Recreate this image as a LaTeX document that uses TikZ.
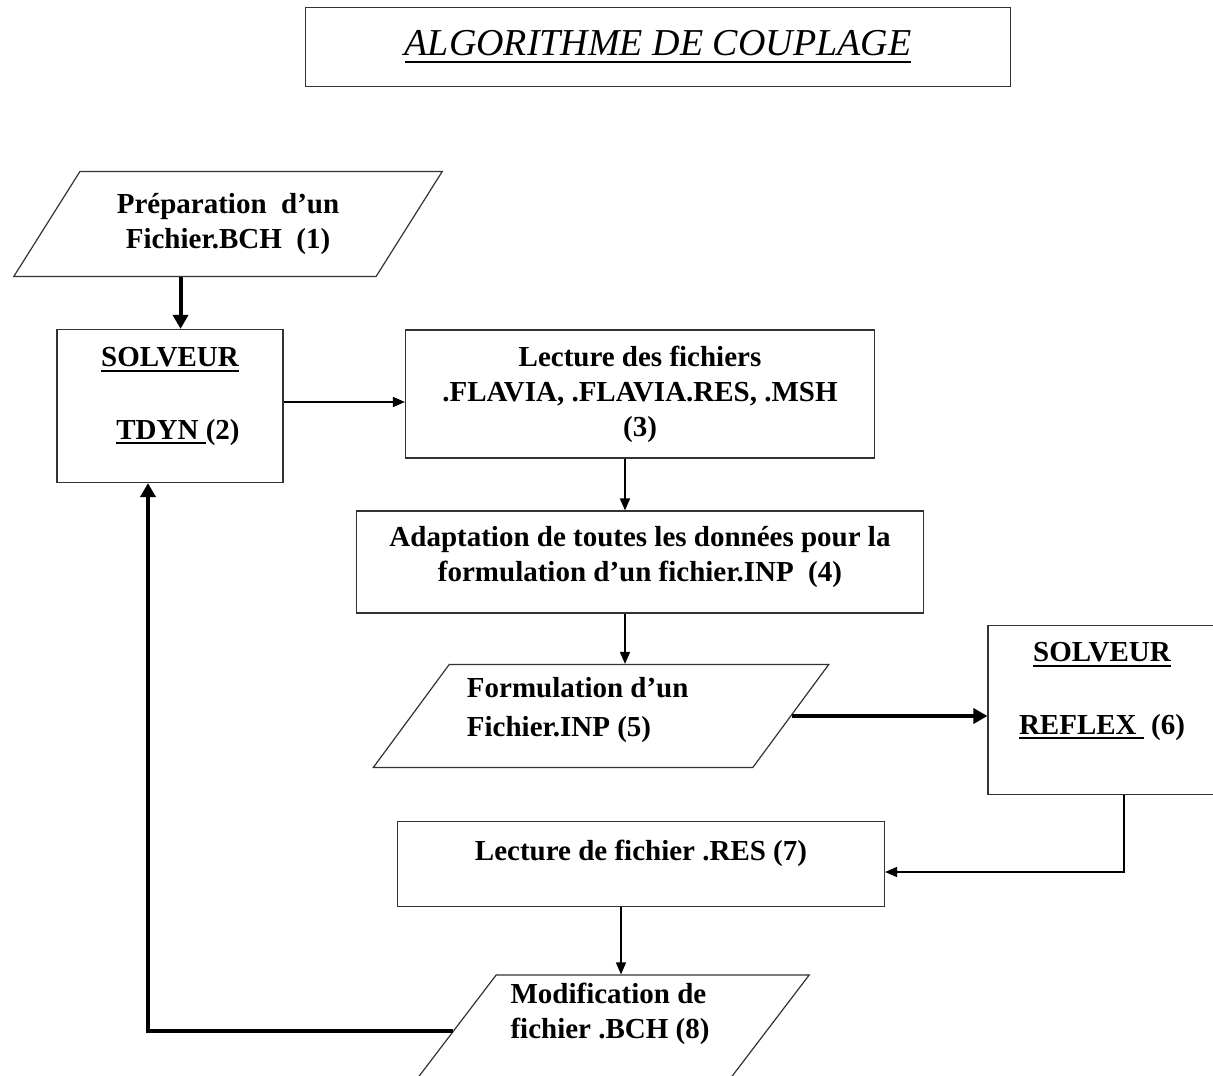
\documentclass[tikz,border=0pt]{standalone}
\usepackage{fontspec}
\setmainfont{Liberation Serif}
\usetikzlibrary{arrows.meta}
\usetikzlibrary{shapes.geometric}

\newcommand{\ulbox}[2][3pt]{\vtop{\hbox{#2}\kern#1\hrule height 2pt}}

\begin{document}
\begin{tikzpicture}[
  box/.style={draw=black!80, line width=1.2pt, rectangle, align=center,
    inner sep=0pt, font=\fontsize{29}{35}\selectfont\bfseries},
  inout/.style={box, trapezium, trapezium stretches=true},
  arr/.style={line width=1.6pt, -{Triangle[length=12pt,width=10pt]}},
  bigarr/.style={line width=4pt, -{Triangle[length=14pt,width=15pt]}}
]
\useasboundingbox (0,0) rectangle (1213pt,-1076pt);
\clip (0,0) rectangle (1213pt,-1076pt);
% title
\node[box, minimum width=705pt, minimum height=79pt,
  font=\fontsize{38}{40}\selectfont\itshape] (titre) at (658pt,-47pt)
  {\ulbox[5pt]{ALGORITHME DE COUPLAGE}};
% left column
\node[inout, trapezium left angle=51, trapezium right angle=129,
  minimum width=430pt, minimum height=105pt] (prep) at (228pt,-224pt)
  {Préparation~~d’un\\Fichier.BCH~~(1)};
\node[box, minimum width=226pt, minimum height=153pt, text depth=26pt]
  (tdyn) at (170pt,-406pt)
  {\ulbox{SOLVEUR}\\[38pt]\hspace*{16pt}\ulbox{TDYN }(2)};
% middle column
\node[box, minimum width=469pt, minimum height=128pt] (lecture) at (640pt,-394pt)
  {Lecture des fichiers\\.FLAVIA, .FLAVIA.RES, .MSH\\(3)};
\node[box, minimum width=567pt, minimum height=102pt, text depth=16pt]
  (adapt) at (640pt,-562pt)
  {Adaptation de toutes les données pour la\\formulation d’un fichier.INP~~(4)};
\node[inout, align=left, trapezium left angle=49, trapezium right angle=131,
  minimum width=458pt, minimum height=103pt, text depth=18pt] (inp) at (601pt,-716pt)
  {Formulation d’un\\[4pt]Fichier.INP (5)\hspace*{84pt}};
\node[box, minimum width=228pt, minimum height=169pt, text depth=44pt]
  (reflex) at (1102pt,-710pt)
  {\ulbox{SOLVEUR}\\[38pt]\ulbox{REFLEX } (6)};
\node[box, minimum width=487pt, minimum height=85pt, text depth=28pt]
  (res) at (641pt,-864pt)
  {Lecture de fichier .RES (7)};
\node[inout, align=left, trapezium left angle=52, trapezium right angle=128,
  minimum width=399pt, minimum height=112pt, text depth=40pt]
  (modif) at (610pt,-1031pt)
  {Modification de\\fichier .BCH (8)};
% turning points
\coordinate (coin) at (1124pt,-872pt);
\coordinate (retour) at (148pt,0);
% links
\draw[bigarr] ([xshift=-14pt]prep.bottom side) -- ([xshift=-14pt]prep.bottom side |- tdyn.north);
\draw[arr] ([yshift=4pt]tdyn.east) -- ([yshift=4pt]lecture.west |- tdyn.east);
\draw[arr] ([xshift=-15pt]lecture.south) -- ([xshift=-15pt]adapt.north);
\draw[arr] ([xshift=-15pt]adapt.south) -- ([xshift=-15pt]adapt.south |- inp.north);
\draw[bigarr] (inp.right side) -- (inp.right side -| reflex.west);
\draw[arr] (reflex.south -| coin) -- (coin) -- (coin -| res.east);
\draw[arr] ([xshift=-20pt]res.south) -- ([xshift=-20pt]res.south |- modif.north);
\draw[bigarr] (modif.left side) -- (modif.left side -| retour)
  -- (retour |- tdyn.south);
\end{tikzpicture}
\end{document}
